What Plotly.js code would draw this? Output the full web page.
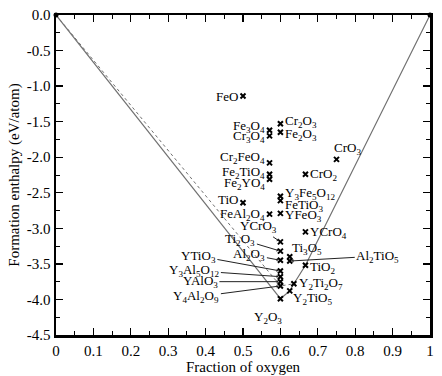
<!DOCTYPE html>
<html><head><meta charset="utf-8">
<script src="https://cdn.plot.ly/plotly-3.0.1.min.js"></script>
<style>body{margin:0;background:#fff}#c{width:442px;height:376px}</style>
</head><body><div id="c"></div>
<script>
// ---- data ----
const compounds = ['FeO','Fe3O4','Cr3O4','Cr2O3','Fe2O3','Cr2FeO4','Fe2TiO4','Fe2YO4','CrO3','CrO2','TiO','Y3Fe5O12','FeTiO3','FeAl2O4','YFeO3','YCrO3','YCrO4','Ti2O3','Al2O3','Ti3O5','Al2TiO5','TiO2','YTiO3','Y3Al5O12','YAlO3','Y4Al2O9','Y2Ti2O7','Y2TiO5','Y2O3'];
const oxygenFraction = [0.5,0.571,0.571,0.6,0.6,0.571,0.571,0.571,0.75,0.667,0.5,0.6,0.6,0.571,0.6,0.6,0.667,0.6,0.6,0.625,0.625,0.667,0.6,0.6,0.6,0.6,0.636,0.625,0.6];
const enthalpy = [-1.14,-1.62,-1.70,-1.53,-1.65,-2.08,-2.24,-2.31,-2.03,-2.24,-2.64,-2.55,-2.61,-2.80,-2.79,-3.19,-3.05,-3.32,-3.45,-3.40,-3.46,-3.52,-3.60,-3.68,-3.75,-3.81,-3.78,-3.88,-3.99];
const elementX = [0, 1];
const elementY = [0, 0];
const hullSolidLeft = ['Y2O3'];
const hullSolidRight = ['Y2O3','Y2TiO5','Y2Ti2O7','TiO2'];
const hullDotted = ['Y4Al2O9','Y2Ti2O7'];
const xTickVals = [0,0.1,0.2,0.3,0.4,0.5,0.6,0.7,0.8,0.9,1];
const xTickText = ['0','0.1','0.2','0.3','0.4','0.5','0.6','0.7','0.8','0.9','1'];
const yTickVals = [0,-0.5,-1,-1.5,-2,-2.5,-3,-3.5,-4,-4.5];
const yTickText = ['0.0','-0.5','-1.0','-1.5','-2.0','-2.5','-3.0','-3.5','-4.0','-4.5'];

// ---- label placement (pixels) ----
// [mode, dx, dy]  L = left of marker, R = right, C = centered (dy up-positive);
// A = arrow, (dx,dy) = text offset in screen pixels (dy down-positive)
const labelPos = {
 FeO:['L',-3,0], Fe3O4:['L',-3,4], Cr3O4:['L',-3,-1], Cr2O3:['R',3,2], Fe2O3:['R',3,-2],
 Cr2FeO4:['L',-3,5], Fe2TiO4:['L',-3,2], Fe2YO4:['L',-3,-4], CrO3:['R',-5,11], CrO2:['R',3,0],
 TiO:['L',-3,3], Y3Fe5O12:['R',3,3], FeTiO3:['R',3,-5], FeAl2O4:['L',-3,0], YFeO3:['R',3,-2],
 YCrO3:['A',-22,-15], YCrO4:['R',3,-1], Ti2O3:['A',-40,-12], Al2O3:['A',-31,-6], Ti3O5:['R',0,8],
 Al2TiO5:['A',88,-5], TiO2:['R',3,-2], YTiO3:['A',-82,-15], Y3Al5O12:['A',-86,-6], YAlO3:['A',-80,0],
 Y4Al2O9:['A',-84,11], Y2Ti2O7:['R',3,0], Y2TiO5:['R',1,-8], Y2O3:['C',-12,-19]
};
function toHtml(f){ return f.replace(/(\d+)/g,'<sub>$1</sub>'); }
function idx(n){ return compounds.indexOf(n); }

const gray = '#707070';
const leftX = [elementX[0]].concat(hullSolidLeft.map(n=>oxygenFraction[idx(n)]));
const leftY = [elementY[0]].concat(hullSolidLeft.map(n=>enthalpy[idx(n)]));
const rightX = hullSolidRight.map(n=>oxygenFraction[idx(n)]).concat([elementX[1]]);
const rightY = hullSolidRight.map(n=>enthalpy[idx(n)]).concat([elementY[1]]);
const dotX = [elementX[0]].concat(hullDotted.map(n=>oxygenFraction[idx(n)]));
const dotY = [elementY[0]].concat(hullDotted.map(n=>enthalpy[idx(n)]));

const traces = [
 {x:dotX,y:dotY,mode:'lines',line:{color:gray,width:1,dash:'dot'},hoverinfo:'skip'},
 {x:leftX,y:leftY,mode:'lines',line:{color:gray,width:1.2},hoverinfo:'skip'},
 {x:rightX,y:rightY,mode:'lines',line:{color:gray,width:1.2},hoverinfo:'skip'},
 {x:oxygenFraction,y:enthalpy,mode:'markers',marker:{symbol:'x-thin-open',size:5,color:'#000',line:{width:2,color:'#000'}},cliponaxis:false},
 {x:elementX,y:elementY,mode:'markers',marker:{symbol:'circle',size:5,color:'#000'},cliponaxis:false}
];

const FAM = 'Liberation Serif, Times New Roman, serif';
function f(sz){ return {family:FAM, size:sz, color:'#000'}; }
const annotations = compounds.map((n,i)=>{
  const p = labelPos[n];
  const a = {x:oxygenFraction[i], y:enthalpy[i], xref:'x', yref:'y', text:toHtml(n), font:f(13)};
  if(p[0]==='A'){
    Object.assign(a,{showarrow:true, axref:'pixel', ayref:'pixel', ax:p[1], ay:p[2], arrowhead:1, arrowsize:0.6, arrowwidth:1, arrowcolor:'#222', standoff:2});
  } else {
    Object.assign(a,{showarrow:false, xshift:p[1], yshift:p[2], yanchor:'middle',
       xanchor: p[0]==='L'?'right':(p[0]==='R'?'left':'center')});
  }
  return a;
});

const axisCommon = {showline:true, linecolor:'#000', linewidth:2.5, mirror:'allticks', ticks:'inside',
  ticklen:7, tickwidth:1.3, tickcolor:'#000', showgrid:false, zeroline:false, tickfont:f(15)};

const layout = {
  width:442, height:376, margin:{l:56,r:12,t:15,b:41}, showlegend:false,
  paper_bgcolor:'#fff', plot_bgcolor:'#fff', font:f(13),
  xaxis:Object.assign({}, axisCommon, {range:[0,1], tickmode:'array', tickvals:xTickVals, ticktext:xTickText,
     minor:{dtick:0.05, ticks:'inside', ticklen:4, tickwidth:1, tickcolor:'#000', showgrid:false},
     title:{text:'Fraction of oxygen', font:f(15), standoff:2}}),
  yaxis:Object.assign({}, axisCommon, {range:[-4.5,0], tickmode:'array', tickvals:yTickVals, ticktext:yTickText,
     minor:{dtick:0.25, ticks:'inside', ticklen:4, tickwidth:1, tickcolor:'#000', showgrid:false},
     title:{text:'Formation enthalpy (eV/atom)', font:f(15), standoff:4}}),
  annotations:annotations
};
Plotly.newPlot('c', traces, layout, {staticPlot:true, displayModeBar:false});
</script></body></html>
